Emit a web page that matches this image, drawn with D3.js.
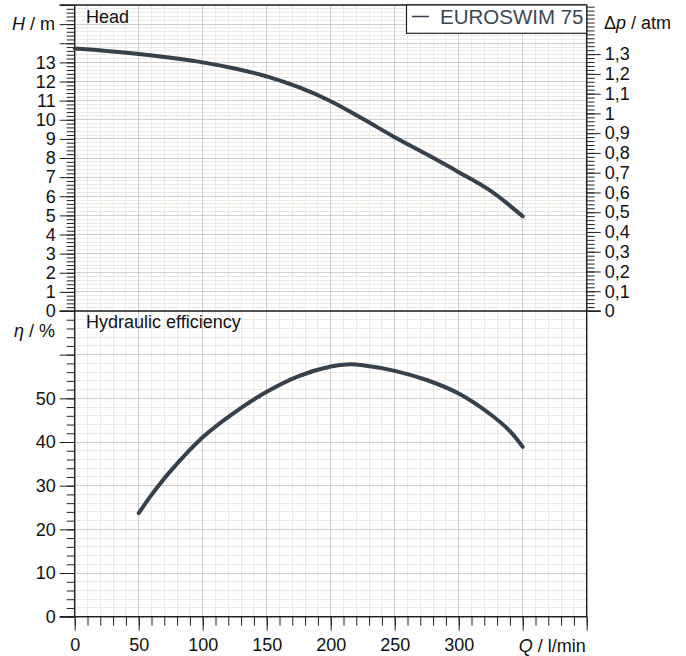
<!DOCTYPE html>
<html><head><meta charset="utf-8">
<script src="https://cdn.jsdelivr.net/npm/d3@7"></script>
<style>
body{margin:0;background:#fff}
text{font-family:"Liberation Sans",Arial,sans-serif}
</style>
</head><body>
<svg id="c" width="686" height="656"></svg>
<script>
// ---- data ----
const seriesName = "EUROSWIM 75";
const headQ = [0, 25, 50, 75, 100, 125, 150, 175, 200, 225, 250, 275, 300, 325, 350];
const headH = [13.73, 13.6, 13.44, 13.24, 13.0, 12.68, 12.27, 11.7, 10.97, 10.05, 9.09, 8.19, 7.26, 6.28, 4.95];
const effQ = [50, 60, 75, 100, 125, 150, 175, 200, 215, 225, 250, 275, 300, 325, 340, 350];
const effEta = [23.7, 27.9, 33.4, 41.1, 46.8, 51.5, 55.1, 57.3, 57.8, 57.6, 56.3, 54.2, 51.1, 46.3, 42.5, 38.9];
const qTickLabels = [0, 50, 100, 150, 200, 250, 300];
const hTickLabels = [0,1,2,3,4,5,6,7,8,9,10,11,12,13];
const etaTickLabels = [0, 10, 20, 30, 40, 50];
const pTickLabels = [0,0.1,0.2,0.3,0.4,0.5,0.6,0.7,0.8,0.9,1,1.1,1.2,1.3];
const M_PER_ATM = 10.332;

// ---- layout ----
const L = 74.7, R = 586.7, T = 5, MID = 311, B = 616.7;
const FS = 18;
const curveColor = "#36414b";
const svg = d3.select("#c");

const x = d3.scaleLinear().domain([0, 400]).range([L, R]);
const yH = d3.scaleLinear().domain([0, 16]).range([MID, T]);
const yE = d3.scaleLinear().domain([0, 70]).range([B, MID]);
const yP = d3.scaleLinear().domain([0, 16 / M_PER_ATM]).range([MID, T]);

const near = (v, s) => Math.abs(v / s - Math.round(v / s)) < 1e-6;

// ---- grid ----
const grid = svg.append("g").attr("shape-rendering", "crispEdges");
const minorC = "#ebeae4", majorC = "#cfcfcf";
const qAll = d3.range(0, 400.001, 10);
const hAll = d3.range(0, 16.001, 0.2);
const eAll = d3.range(0, 70.001, 2);
function hline(g, y, c) { g.append("line").attr("x1", L).attr("x2", R).attr("y1", y).attr("y2", y).attr("stroke", c); }
qAll.filter(q => !near(q, 50)).forEach(q => grid.append("line").attr("x1", x(q)).attr("x2", x(q)).attr("y1", T).attr("y2", B).attr("stroke", minorC));
hAll.filter(h => !near(h, 1)).forEach(h => hline(grid, yH(h), minorC));
eAll.filter(e => !near(e, 10)).forEach(e => hline(grid, yE(e), minorC));
qAll.filter(q => near(q, 50)).forEach(q => grid.append("line").attr("x1", x(q)).attr("x2", x(q)).attr("y1", T).attr("y2", B).attr("stroke", majorC));
hAll.filter(h => near(h, 1)).forEach(h => hline(grid, yH(h), majorC));
eAll.filter(e => near(e, 10)).forEach(e => hline(grid, yE(e), majorC));

// ---- axes ----
function styleAxis(g) {
  g.select(".domain").remove();
  g.selectAll(".tick line").attr("stroke", "#222");
  g.selectAll(".tick text").attr("font-size", FS).attr("fill", "#111").style("font-family", "'Liberation Sans',Arial,sans-serif");
}
svg.append("g").attr("transform", `translate(${L},0)`)
  .call(d3.axisLeft(yH).tickValues(hAll).tickSize(8).tickFormat("")).call(styleAxis);
svg.append("g").attr("transform", `translate(${L},0)`)
  .call(d3.axisLeft(yH).tickValues(d3.range(0, 17, 1)).tickSize(15).tickPadding(4)
    .tickFormat(d => hTickLabels.includes(d) ? d : "")).call(styleAxis);
svg.append("g").attr("transform", `translate(${L},0)`)
  .call(d3.axisLeft(yE).tickValues(eAll).tickSize(8).tickFormat("")).call(styleAxis);
svg.append("g").attr("transform", `translate(${L},0)`)
  .call(d3.axisLeft(yE).tickValues(d3.range(0, 71, 10)).tickSize(15).tickPadding(4)
    .tickFormat(d => etaTickLabels.includes(d) ? d : "")).call(styleAxis);
const pAll = d3.range(0, 16 / M_PER_ATM + 1e-9, 0.02);
svg.append("g").attr("transform", `translate(${R},0)`)
  .call(d3.axisRight(yP).tickValues(pAll).tickSize(8).tickFormat("")).call(styleAxis);
svg.append("g").attr("transform", `translate(${R},0)`)
  .call(d3.axisRight(yP).tickValues(pTickLabels).tickSize(14).tickPadding(4)
    .tickFormat(d => String(Math.round(d * 10) / 10).replace(".", ","))).call(styleAxis);
svg.append("g").attr("transform", `translate(0,${B})`)
  .call(d3.axisBottom(x).tickValues(qAll).tickSize(9).tickFormat("")).call(styleAxis);
svg.append("g").attr("transform", `translate(0,${B})`)
  .call(d3.axisBottom(x).tickValues(d3.range(0, 401, 50)).tickSize(14).tickPadding(8)
    .tickFormat(d => qTickLabels.includes(d) ? d : "")).call(styleAxis);

// ---- frame ----
const frame = svg.append("g").attr("stroke", "#222").attr("stroke-width", 1.5).attr("fill", "none");
frame.append("line").attr("x1", L).attr("x2", L).attr("y1", T).attr("y2", B);
frame.append("line").attr("x1", R).attr("x2", R).attr("y1", T).attr("y2", B);
frame.append("line").attr("x1", L - 15).attr("x2", R).attr("y1", T).attr("y2", T);
frame.append("line").attr("x1", L - 15).attr("x2", R + 14).attr("y1", MID).attr("y2", MID);
frame.append("line").attr("x1", L - 15).attr("x2", R).attr("y1", B).attr("y2", B);

// ---- curves ----
const headData = headQ.map((q, i) => [q, headH[i]]);
const effData = effQ.map((q, i) => [q, effEta[i]]);
svg.append("path").datum(headData)
  .attr("d", d3.line().x(d => x(d[0])).y(d => yH(d[1])).curve(d3.curveCatmullRom.alpha(0.5)))
  .attr("fill", "none").attr("stroke", curveColor).attr("stroke-width", 4).attr("stroke-linecap", "round");
svg.append("path").datum(effData)
  .attr("d", d3.line().x(d => x(d[0])).y(d => yE(d[1])).curve(d3.curveCatmullRom.alpha(0.5)))
  .attr("fill", "none").attr("stroke", curveColor).attr("stroke-width", 4).attr("stroke-linecap", "round");

// ---- labels ----
const lab = svg.append("g").attr("font-size", FS).attr("fill", "#111");
lab.append("text").attr("x", 86).attr("y", 22.7).text("Head");
lab.append("text").attr("x", 86).attr("y", 328.3).text("Hydraulic efficiency");
const hl = lab.append("text").attr("x", 55).attr("y", 30).attr("text-anchor", "end");
hl.append("tspan").attr("font-style", "italic").text("H");
hl.append("tspan").text(" / m");
const el = lab.append("text").attr("x", 55).attr("y", 336.5).attr("text-anchor", "end");
el.append("tspan").attr("font-style", "italic").text("η");
el.append("tspan").text(" / %");
const pl = lab.append("text").attr("x", 604).attr("y", 29);
pl.append("tspan").text("Δ");
pl.append("tspan").attr("font-style", "italic").text("p");
pl.append("tspan").text(" / atm");
const ql = lab.append("text").attr("x", R - 1).attr("y", 651.5).attr("text-anchor", "end");
ql.append("tspan").attr("font-style", "italic").text("Q");
ql.append("tspan").text(" / l/min");

// ---- legend ----
const lg = svg.append("g");
lg.append("rect").attr("x", 406.5).attr("y", T).attr("width", R - 406.5).attr("height", 28.3)
  .attr("fill", "#fff").attr("stroke", "#222").attr("stroke-width", 1.2);
lg.append("line").attr("x1", 412).attr("x2", 429).attr("y1", 16.5).attr("y2", 16.5)
  .attr("stroke", curveColor).attr("stroke-width", 1.5);
lg.append("text").attr("x", 440).attr("y", 23.5).attr("font-size", 20.5).attr("fill", "#3b4752").text(seriesName);
</script>
</body></html>
